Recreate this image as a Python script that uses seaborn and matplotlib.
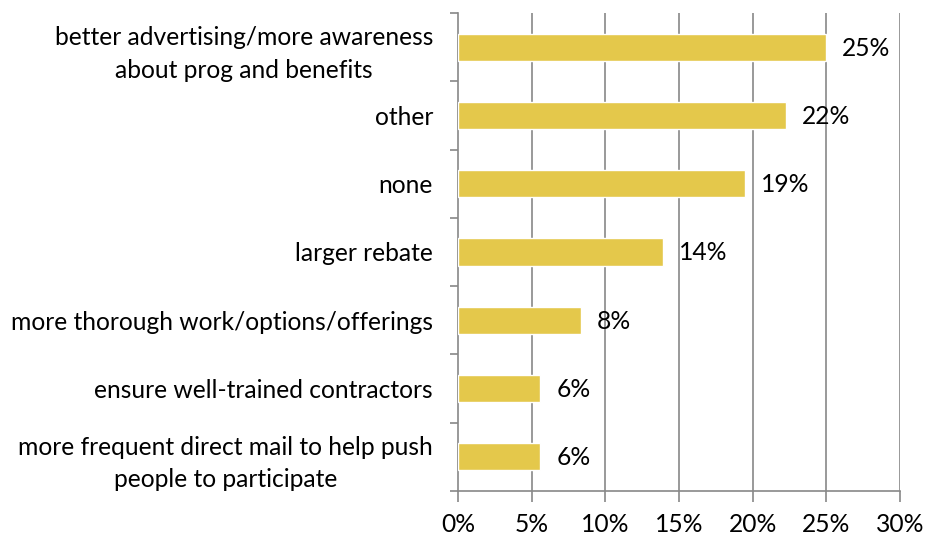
import matplotlib
matplotlib.use("Agg")
import matplotlib.pyplot as plt
import seaborn as sns
import pandas as pd
import numpy as np

categories = [
    "better advertising/more awareness\nabout prog and benefits",
    "other",
    "none",
    "larger rebate",
    "more thorough work/options/offerings",
    "ensure well-trained contractors",
    "more frequent direct mail to help push\npeople to participate",
]
values = [25.0, 22.25, 19.5, 13.9, 8.35, 5.6, 5.6]
labels = ["25%", "22%", "19%", "14%", "8%", "6%", "6%"]
xticks = [0, 5, 10, 15, 20, 25, 30]
xticklabels = ["0%", "5%", "10%", "15%", "20%", "25%", "30%"]

sns.set_theme(style="white")
plt.rcParams["font.family"] = ["Lato", "DejaVu Sans"]
plt.rcParams["text.color"] = "black"
plt.rcParams["xtick.color"] = "black"
plt.rcParams["ytick.color"] = "black"

FS = 17.7

df = pd.DataFrame({"cat": categories, "val": values})

fig = plt.figure(figsize=(9.25, 5.38), dpi=100)
ax = fig.add_axes([0.4951, 0.0874, 0.973 - 0.4951, 0.9758 - 0.0874])

sns.barplot(data=df, y="cat", x="val", orient="h", color="#E4C84B",
            saturation=1, width=0.4, ax=ax, zorder=3)

for i, (v, lab) in enumerate(zip(values, labels)):
    ax.annotate(lab, xy=(v, i), xytext=(16, -1), textcoords="offset pixels",
                ha="left", va="center", fontsize=FS, color="black")

ax.set_xlim(0, 30)
ax.set_ylim(len(categories) - 0.5, -0.5)
ax.set_xticks(xticks)
ax.set_xticklabels(xticklabels, fontsize=FS)
ax.set_xlabel("")
ax.set_ylabel("")

ax.set_yticks(range(len(categories)))
ax.set_yticklabels(categories, fontsize=FS, multialignment="center", linespacing=1.5)
ax.tick_params(axis="y", which="major", left=False, length=0, pad=18)
ax.set_yticks(np.arange(-0.5, len(categories), 1), minor=True)
ax.tick_params(axis="y", which="minor", left=True, length=6, width=1.2,
               color="#888888", direction="out")
ax.tick_params(axis="x", which="major", bottom=True, length=8, width=1.2,
               color="#888888", labelcolor="black", direction="out", pad=8)

for x in xticks[1:]:
    ax.axvline(x, color="#888888", lw=1.2, zorder=1)

for side in ["top", "right"]:
    ax.spines[side].set_visible(False)
for side in ["left", "bottom"]:
    ax.spines[side].set_color("#888888")
    ax.spines[side].set_linewidth(1.2)

fig.savefig("out.png", dpi=100)
